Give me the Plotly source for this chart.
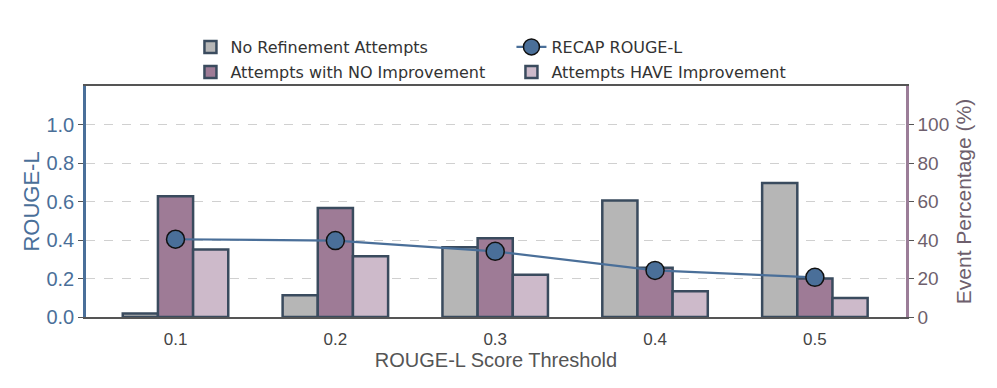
import plotly.graph_objects as go

thresholds = ["0.1", "0.2", "0.3", "0.4", "0.5"]
no_refine = [1.8, 11.3, 36.2, 60.5, 69.6]
no_improve = [62.7, 56.6, 40.9, 25.6, 20.0]
have_improve = [35.1, 31.6, 22.0, 13.4, 9.9]
recap_rouge = [0.404, 0.397, 0.341, 0.242, 0.206]

left_ticks = [0.0, 0.2, 0.4, 0.6, 0.8, 1.0]
right_ticks = [0, 20, 40, 60, 80, 100]

EDGE = "#3a4b5e"
BLUE = "#4a6f99"
PURP_AX = "#9b7d98"
RIGHT_TXT = "#6e5f6d"

fig = go.Figure()
bar_style = dict(marker_line_color=EDGE, marker_line_width=2.5)
fig.add_trace(go.Bar(x=thresholds, y=no_refine, name="No Refinement Attempts",
                     marker_color="#b6b6b6", legend="legend", **bar_style))
fig.add_trace(go.Bar(x=thresholds, y=no_improve, name="Attempts with NO Improvement",
                     marker_color="#9e7b96", legend="legend2", **bar_style))
fig.add_trace(go.Bar(x=thresholds, y=have_improve, name="Attempts HAVE Improvement",
                     marker_color="#cdbaca", legend="legend2", **bar_style))
fig.add_trace(go.Scatter(x=thresholds, y=recap_rouge, name="RECAP ROUGE-L", yaxis="y2",
                         mode="lines+markers", line=dict(color=BLUE, width=2.2),
                         marker=dict(size=18, color=BLUE, line=dict(color="#111111", width=1.5)),
                         legend="legend"))

leg_common = dict(orientation="h", xref="container", yref="container", xanchor="left",
                  yanchor="middle", entrywidth=276, bgcolor="rgba(0,0,0,0)",
                  font=dict(family="DejaVu Sans", size=16, color="#333333"),
                  traceorder="normal")

fig.update_layout(
    width=997, height=388,
    margin=dict(l=78, r=99, t=78, b=79, autoexpand=False),
    plot_bgcolor="white", paper_bgcolor="white",
    barmode="group", bargap=0.34, bargroupgap=0,
    font=dict(family="Liberation Sans"),
    legend=dict(x=0.183, y=1 - 39 / 388, **leg_common),
    legend2=dict(x=0.183, y=1 - 64 / 388, **leg_common),
    xaxis=dict(range=[-0.56, 4.57], showline=True, linecolor="#555555", linewidth=2,
               mirror=True, ticks="", ticklabelstandoff=6,
               tickfont=dict(size=17, color="#444444"),
               title=dict(text="ROUGE-L Score Threshold", font=dict(size=20, color="#555555"),
                          standoff=5)),
    yaxis=dict(side="right", range=[0, 120], tickvals=right_ticks,
               showgrid=True, gridcolor="#d0d0d0", griddash="dash", gridwidth=1,
               showline=True, linecolor=PURP_AX, linewidth=2.5, zeroline=False,
               ticks="outside", ticklen=5, tickcolor="#555555",
               tickfont=dict(size=19, color=RIGHT_TXT),
               title=dict(text="Event Percentage (%)", font=dict(size=21, color=RIGHT_TXT),
                          standoff=9)),
    yaxis2=dict(overlaying="y", side="left", range=[0, 1.2], tickvals=left_ticks,
                tickformat=".1f", showgrid=False, zeroline=False,
                showline=True, linecolor=BLUE, linewidth=2.5,
                ticks="outside", ticklen=5, tickcolor="#555555",
                tickfont=dict(size=20, color=BLUE),
                title=dict(text="ROUGE-L", font=dict(size=22, color=BLUE), standoff=1)),
)

fig.write_html("out.html")
